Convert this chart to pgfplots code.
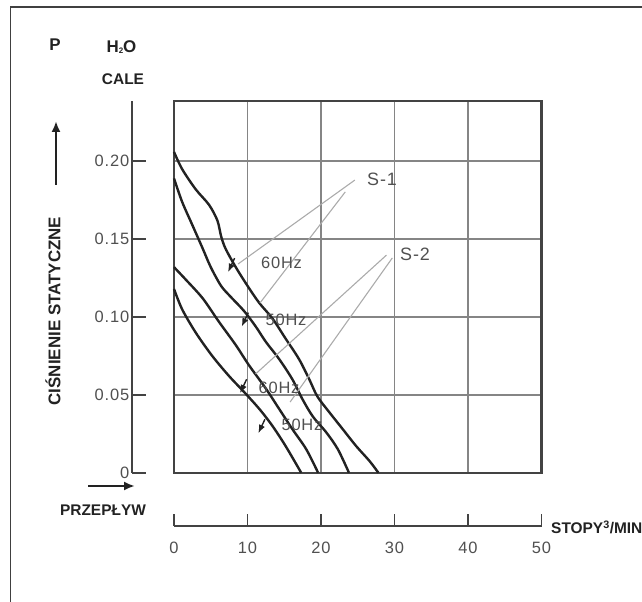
\documentclass[border=0pt]{standalone}
\usepackage{fontspec}
\setmainfont{Liberation Sans}
\newfontfamily\spaced[LetterSpace=5]{Liberation Sans}
\usepackage{pgfplots}
\pgfplotsset{compat=1.18}
\usetikzlibrary{arrows.meta}
\definecolor{ink}{HTML}{222222}
\definecolor{gridc}{HTML}{858585}
\definecolor{leader}{HTML}{ABABAB}
\definecolor{tickc}{HTML}{505050}
\newcommand{\tfont}{\spaced\fontsize{16.5}{17}\selectfont}
\newcommand{\bfont}{\fontsize{15.5}{16}\selectfont\bfseries}
\begin{document}
\begin{tikzpicture}[x=1bp,y=1bp]
\useasboundingbox (0,0) rectangle (642,602);
\draw[line width=1.3bp, black!75] (10.5,0) -- (10.5,595) -- (642,595);

% main grid box with curves
\begin{axis}[at={(174bp,129.3bp)}, anchor=south west, scale only axis,
  width=367.5bp, height=371.7bp,
  xmin=0, xmax=50, ymin=0, ymax=0.2387,
  xtick={10,20,30,40}, ytick={0.05,0.1,0.15,0.2},
  xticklabels={}, yticklabels={}, major tick length=0pt,
  grid=major, grid style={gridc, line width=1.7bp},
  axis line style={ink!85, line width=2.3bp},
  clip=false]
% S-1 60Hz
\addplot[ink, line width=2.4bp, smooth, tension=0.5] coordinates {
 (0,0.206) (1.1,0.195) (2.95,0.182) (4.77,0.172) (5.9,0.162) (6.4,0.152) (7.0,0.144)
 (8.4,0.132) (10.0,0.120) (11.6,0.109) (13.4,0.099) (15.2,0.086) (17.0,0.073)
 (18.4,0.060) (19.5,0.049) (21.1,0.039) (22.95,0.028) (24.8,0.017) (26.6,0.0075) (27.8,0)};
% S-1 50Hz
\addplot[ink, line width=2.4bp, smooth, tension=0.5] coordinates {
 (0,0.189) (1.1,0.174) (2.5,0.159) (3.9,0.144) (5.0,0.132) (6.4,0.120) (7.7,0.113)
 (9.5,0.104) (11.1,0.094) (12.5,0.084) (14.3,0.073) (16.1,0.060) (17.5,0.047)
 (18.9,0.036) (20.7,0.026) (22.3,0.015) (23.8,0)};
% S-2 60Hz
\addplot[ink, line width=2.4bp, smooth, tension=0.5] coordinates {
 (0,0.132) (1.6,0.124) (3.9,0.112) (6.1,0.097) (8.4,0.082) (10.2,0.069) (12.5,0.054)
 (14.3,0.041) (16.1,0.028) (18.0,0.015) (19.6,0)};
% S-2 50Hz
\addplot[ink, line width=2.4bp, smooth, tension=0.5] coordinates {
 (0,0.118) (1.1,0.105) (2.95,0.090) (5.2,0.075) (7.5,0.062) (9.5,0.052) (11.6,0.041)
 (13.4,0.030) (15.2,0.017) (17.3,0)};
% leader lines
\draw[leader, line width=1.1bp] (axis cs:24.6,0.1879) -- (axis cs:8.71,0.1340);
\draw[leader, line width=1.1bp] (axis cs:23.3,0.1803) -- (axis cs:11.7,0.1090);
\draw[leader, line width=1.1bp] (axis cs:28.9,0.1397) -- (axis cs:11.1,0.0634);
\draw[leader, line width=1.1bp] (axis cs:29.7,0.1379) -- (axis cs:15.8,0.0454);
% arrow marks
\draw[ink, line width=1.4bp, -{Latex[length=8.5bp,width=6.5bp]}] (axis cs:8.25,0.1378) -- (axis cs:7.35,0.1288);
\draw[ink, line width=1.4bp, -{Latex[length=8.5bp,width=6.5bp]}] (axis cs:10.11,0.1028) -- (axis cs:9.21,0.0938);
\draw[ink, line width=1.4bp, -{Latex[length=8.5bp,width=6.5bp]}] (axis cs:9.88,0.0600) -- (axis cs:8.98,0.0510);
\draw[ink, line width=1.4bp, -{Latex[length=8.5bp,width=6.5bp]}] (axis cs:12.37,0.0343) -- (axis cs:11.47,0.0253);
% labels
\node[text=tickc, font=\spaced\fontsize{18}{18}\selectfont] at (axis cs:28.3,0.1885) {S-1};
\node[text=tickc, font=\spaced\fontsize{18}{18}\selectfont] at (axis cs:32.8,0.1405) {S-2};
\node[text=tickc, font=\tfont] at (axis cs:14.63,0.1345) {60Hz};
\node[text=tickc, font=\tfont] at (axis cs:15.24,0.0981) {50Hz};
\node[text=tickc, font=\tfont] at (axis cs:14.29,0.0544) {60Hz};
\node[text=tickc, font=\tfont] at (axis cs:17.41,0.0306) {50Hz};
\end{axis}

% separate y axis
\begin{axis}[at={(131.7bp,129.3bp)}, anchor=south west, scale only axis,
  width=20bp, height=371.7bp, xmin=0, xmax=1, ymin=0, ymax=0.2387,
  axis x line=none, axis y line=left,
  axis line style={-, ink!85, line width=1.9bp},
  xtick=\empty, ytick={0,0.05,0.1,0.15,0.2},
  yticklabels={0,0.05,0.10,0.15,0.20},
  tick align=inside, major tick length=14bp,
  tick style={ink!85, line width=1.9bp},
  yticklabel style={font=\tfont, text=tickc, xshift=1bp}]
\end{axis}

% separate x axis
\begin{axis}[at={(174bp,76bp)}, anchor=south west, scale only axis,
  width=367.5bp, height=10bp, xmin=0, xmax=50, ymin=0, ymax=1,
  axis y line=none, axis x line=bottom,
  axis line style={-, ink!85, line width=1.9bp},
  ytick=\empty, xtick={0,10,20,30,40,50},
  xticklabels={0,10,20,30,40,50},
  tick align=inside, major tick length=12bp,
  tick style={ink!85, line width=1.9bp},
  xticklabel style={font=\tfont, text=tickc, yshift=-13bp}]
\end{axis}

% titles and arrows
\node[font=\fontsize{17}{17}\selectfont\bfseries, text=ink] at (55,557) {P};
\node[font=\fontsize{17}{17}\selectfont\bfseries, text=ink] at (121.5,555) {H\raisebox{-0.1ex}{\fontsize{8}{8}\selectfont 2}O};
\node[font=\bfont, text=ink] at (123,523) {CALE};
\draw[ink, line width=2.5bp, -{Latex[length=11bp,width=9bp]}] (56,417) -- (56,481);
\draw[ink, line width=2.5bp, -{Latex[length=11bp,width=9bp]}] (88,116) -- (135,116);
\node[font=\fontsize{17}{17}\selectfont\bfseries, text=ink, rotate=90] at (53,291) {CIŚNIENIE STATYCZNE};
\node[font=\bfont, text=ink] at (103,92) {PRZEPŁYW};
\node[font=\bfont, text=ink, anchor=west, inner sep=0pt] at (551,75) {STOPY\textsuperscript{3}/MIN};
\end{tikzpicture}
\end{document}
